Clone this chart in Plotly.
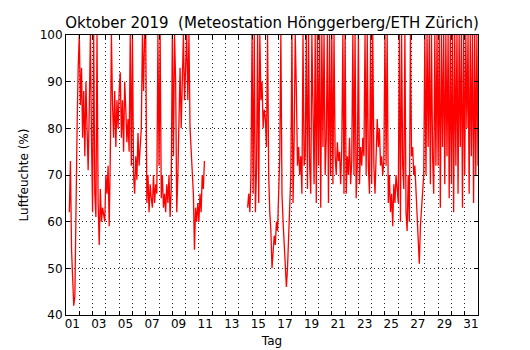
import plotly.graph_objects as go

# Relative humidity (%) at 2-hour steps, Hönggerberg, October 2019.
# First block starts 1 Oct 06:00, second block starts 14 Oct 16:00.
STEP_DAYS = 2 / 24

start_a = 0.25
oct01_11 = [
    62, 73, 54, 47, 42, 44, 71, 80, 93,                 # 01 (from 06:00)
    100, 85, 93, 78, 88, 74, 90, 80, 71, 84, 100, 78,   # 02
    62, 100, 66, 61, 100, 64, 55, 67, 60, 63, 61, 60,   # 03
    70, 66, 72, 59, 74, 100, 85, 78, 88, 76, 86, 80,    # 04
    88, 92, 78, 86, 75, 90, 84, 77, 82, 75, 100, 72,    # 05
    100, 70, 66, 74, 69, 79, 72, 76, 80, 100, 88, 100,  # 06
    100, 64, 70, 62, 68, 65, 63, 70, 64, 68, 66, 100,   # 07
    72, 100, 65, 70, 63, 66, 62, 68, 64, 70, 61, 67,    # 08
    100, 74, 100, 90, 62, 70, 84, 93, 80, 90, 100, 86,  # 09
    92, 100, 86, 100, 80, 74, 70, 66, 54, 63, 60, 64,   # 10
    60, 66, 62, 70, 67, 73,                             # 11 (to 10:00)
]

start_b = 13 + 16 / 24
oct14_31 = [
    63, 66, 62, 70,                                     # 14 (from 16:00)
    100, 66, 100, 62, 71, 100, 64, 100, 86, 90, 80, 84, # 15
    82, 76, 100, 70, 62, 58, 50, 53, 57, 55, 60, 58,    # 16
    70, 74, 100, 66, 60, 55, 52, 46, 50, 57, 64, 70,    # 17
    100, 64, 78, 100, 88, 72, 76, 70, 74, 66, 100, 72,  # 18
    74, 100, 67, 100, 72, 66, 100, 80, 68, 100, 64, 100,# 19
    72, 100, 63, 100, 76, 100, 70, 78, 100, 64, 100, 70,# 20
    100, 68, 100, 74, 70, 77, 73, 75, 68, 76, 100, 66,  # 21
    100, 66, 74, 70, 78, 68, 73, 100, 70, 100, 65, 72,  # 22
    100, 68, 76, 72, 78, 74, 100, 70, 100, 72, 66, 100, # 23
    68, 100, 72, 66, 74, 82, 76, 80, 72, 74, 70, 73,    # 24
    100, 72, 100, 64, 70, 62, 66, 59, 68, 64, 70, 66,   # 25
    64, 100, 60, 100, 72, 67, 100, 62, 58, 70, 60, 100, # 26
    74, 76, 70, 72, 67, 60, 55, 51, 59, 63, 66, 70,     # 27
    100, 70, 100, 76, 100, 68, 100, 74, 66, 100, 72, 100,# 28
    72, 100, 63, 100, 76, 100, 68, 100, 74, 100, 65, 100,# 29
    68, 100, 62, 100, 72, 100, 66, 100, 76, 100, 63, 100,# 30
    70, 100, 80, 100, 66, 100, 74, 100, 64, 100, 70, 100,# 31
    72,
]

day_ticks = list(range(1, 32))
day_labels = [f"{d:02d}" if d % 2 == 1 else "" for d in day_ticks]
y_ticks = [40, 50, 60, 70, 80, 90, 100]

t_a = [start_a + i * STEP_DAYS for i in range(len(oct01_11))]
t_b = [start_b + i * STEP_DAYS for i in range(len(oct14_31))]
x = t_a + [None] + t_b
y = oct01_11 + [None] + oct14_31

fig = go.Figure()
fig.add_trace(go.Scatter(
    x=x, y=y, mode="lines",
    line=dict(color="#ff0000", width=1.3),
    connectgaps=False, hoverinfo="skip", showlegend=False,
))

font = dict(family="DejaVu Sans", color="black")
grid = dict(showgrid=True, gridcolor="rgba(0,0,0,0.85)", gridwidth=1, griddash="1px,3px")

fig.update_layout(
    width=530, height=350,
    margin=dict(l=66, r=52, t=35, b=35, autoexpand=False),
    paper_bgcolor="white", plot_bgcolor="white",
    font=dict(size=12, **font),
    title=dict(
        text="Oktober 2019  (Meteostation Hönggerberg/ETH Zürich)",
        font=dict(size=15, **font),
        x=0.5, xref="paper", xanchor="center",
        y=1 - 23 / 350, yref="container", yanchor="middle",
    ),
    xaxis=dict(
        range=[0, 31], tickmode="array", tickvals=day_ticks, ticktext=day_labels,
        ticklabelshift=-7, ticklabelstandoff=-2,
        ticks="inside", ticklen=4, tickcolor="black", tickwidth=1,
        showline=True, linecolor="black", linewidth=1, mirror="ticks",
        zeroline=False, automargin=False,
        title=dict(text="Tag", font=dict(size=12, **font), standoff=6),
        tickfont=dict(size=12, **font),
        **grid,
    ),
    yaxis=dict(
        range=[40, 100], tickmode="array", tickvals=y_ticks,
        ticks="inside", ticklen=4, tickcolor="black", tickwidth=1,
        showline=True, linecolor="black", linewidth=1, mirror="ticks",
        zeroline=False, automargin=False,
        title=dict(text="Luftfeuchte (%)", font=dict(size=12, **font), standoff=8),
        tickfont=dict(size=12, **font),
        **grid,
    ),
)

fig.write_html("out.html")
